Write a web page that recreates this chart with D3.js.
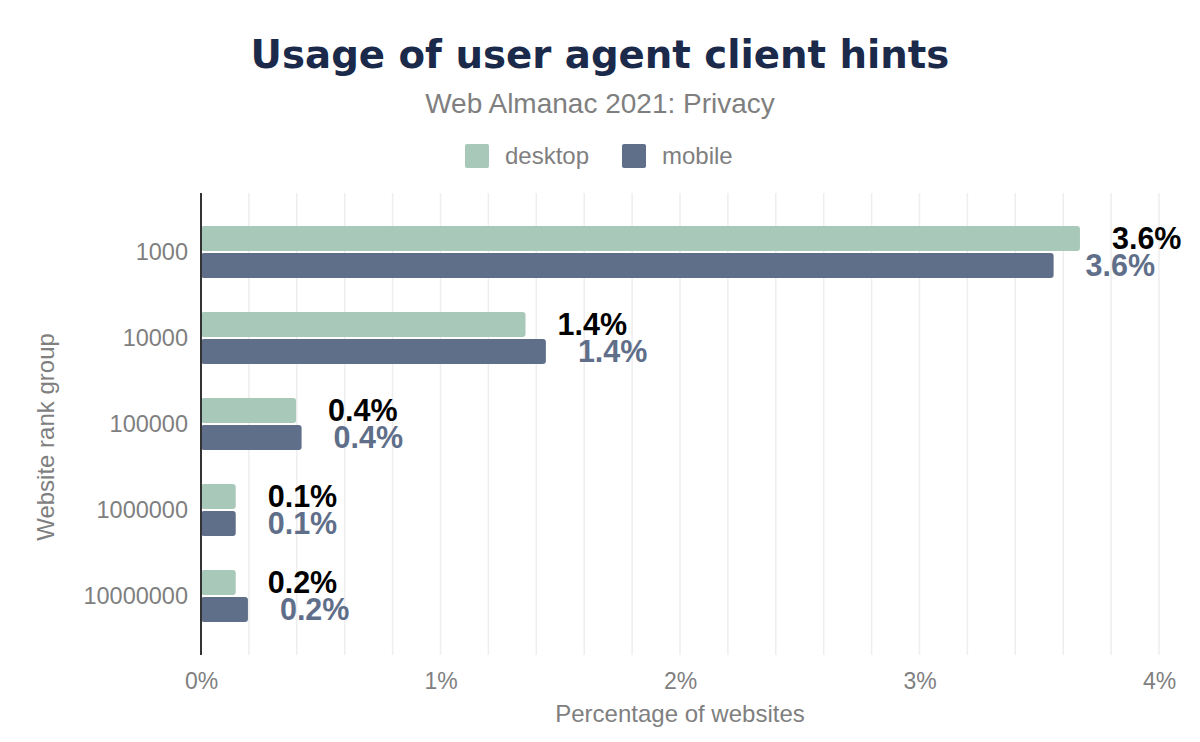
<!DOCTYPE html>
<html>
<head>
<meta charset="utf-8">
<script src="https://cdn.jsdelivr.net/npm/d3@7"></script>
<style>
  body { margin: 0; background: #fff; }
  svg { font-family: "Liberation Sans", Arial, Helvetica, sans-serif; }
</style>
</head>
<body>
<svg id="chart" width="1200" height="742"></svg>
<script>
// ---------- data ----------
const rankGroups = ["1000", "10000", "100000", "1000000", "10000000"];
const desktopPct = [3.67, 1.355, 0.397, 0.145, 0.145];
const mobilePct = [3.56, 1.44, 0.42, 0.145, 0.196];
const desktopLabels = ["3.6%", "1.4%", "0.4%", "0.1%", "0.2%"];
const mobileLabels = ["3.6%", "1.4%", "0.4%", "0.1%", "0.2%"];
const xTicks = [0, 1, 2, 3, 4];
const seriesNames = ["desktop", "mobile"];

const colors = { desktop: "#a8c9b9", mobile: "#5f6f8a" };
const grey = "#7f7f7f";

const svg = d3.select("#chart");
const W = 1200, H = 742;

// plot area
const plotLeft = 201, plotRight = 1159, plotTop = 193, plotBottom = 655;

const x = d3.scaleLinear().domain([0, 4]).range([plotLeft, plotRight]);
const y = d3.scaleBand().domain(rankGroups).range([209, 639]).paddingInner(0.395).paddingOuter(0.1975);
const sub = d3.scaleBand().domain(seriesNames).range([0, y.bandwidth()]).paddingInner(0.077);

// title + subtitle
svg.append("text")
  .attr("x", W / 2).attr("y", 68)
  .attr("text-anchor", "middle")
  .attr("font-family", "DejaVu Sans, sans-serif")
  .attr("font-size", 38.7).attr("font-weight", "bold")
  .attr("fill", "#1b2a4a")
  .text("Usage of user agent client hints");

svg.append("text")
  .attr("x", W / 2).attr("y", 113)
  .attr("text-anchor", "middle")
  .attr("font-size", 28)
  .attr("fill", grey)
  .text("Web Almanac 2021: Privacy");

// legend
const legend = svg.append("g");
const legendItems = [{ name: "desktop", x: 465 }, { name: "mobile", x: 622 }];
legendItems.forEach(d => {
  legend.append("rect")
    .attr("x", d.x).attr("y", 144)
    .attr("width", 24).attr("height", 24)
    .attr("rx", 2)
    .attr("fill", colors[d.name]);
  legend.append("text")
    .attr("x", d.x + 40).attr("y", 164)
    .attr("font-size", 24)
    .attr("fill", grey)
    .text(d.name);
});

// gridlines every 0.2%
const gridVals = d3.range(1, 21).map(i => i * 0.2);
svg.append("g").selectAll("line")
  .data(gridVals)
  .join("line")
  .attr("x1", d => x(d)).attr("x2", d => x(d))
  .attr("y1", plotTop).attr("y2", plotBottom)
  .attr("stroke", "#eeeeee")
  .attr("stroke-width", 1.5);

// x axis tick labels
const xAxis = d3.axisBottom(x).tickValues(xTicks).tickFormat(d => d + "%").tickSize(0);
svg.append("g")
  .attr("transform", `translate(0,${plotBottom})`)
  .call(xAxis)
  .call(g => g.select(".domain").remove())
  .call(g => g.selectAll("text")
    .attr("dy", 0).attr("y", 34)
    .attr("font-size", 23)
    .attr("font-family", "Liberation Sans, Arial, sans-serif")
    .attr("fill", grey));

svg.append("text")
  .attr("x", (plotLeft + plotRight) / 2).attr("y", 722)
  .attr("text-anchor", "middle")
  .attr("font-size", 24)
  .attr("fill", grey)
  .text("Percentage of websites");

// y axis labels
const yAxis = d3.axisLeft(y).tickSize(0).tickPadding(13);
svg.append("g")
  .attr("transform", `translate(${plotLeft},0)`)
  .call(yAxis)
  .call(g => g.select(".domain").remove())
  .call(g => g.selectAll("text")
    .attr("font-size", 23.5)
    .attr("font-family", "Liberation Sans, Arial, sans-serif")
    .attr("fill", grey));

svg.append("text")
  .attr("transform", `translate(54,${(plotTop + plotBottom) / 2 + 13}) rotate(-90)`)
  .attr("text-anchor", "middle")
  .attr("font-size", 24)
  .attr("fill", grey)
  .text("Website rank group");

// bars
const rows = rankGroups.map((g, i) => ({
  group: g,
  values: [
    { key: "desktop", v: desktopPct[i], label: desktopLabels[i] },
    { key: "mobile", v: mobilePct[i], label: mobileLabels[i] }
  ]
}));

const groups = svg.append("g").selectAll("g")
  .data(rows)
  .join("g")
  .attr("transform", d => `translate(0,${y(d.group)})`);

groups.selectAll("rect")
  .data(d => d.values)
  .join("rect")
  .attr("x", x(0))
  .attr("y", d => sub(d.key))
  .attr("width", d => x(d.v) - x(0))
  .attr("height", sub.bandwidth())
  .attr("rx", 3)
  .attr("fill", d => colors[d.key]);

groups.selectAll("text")
  .data(d => d.values)
  .join("text")
  .attr("x", d => x(d.v) + 32)
  .attr("y", d => sub(d.key) + sub.bandwidth() - 2)
  .attr("font-size", 30.5)
  .attr("font-weight", "bold")
  .attr("fill", d => d.key === "desktop" ? "#000" : colors.mobile)
  .text(d => d.label);

// y axis line
svg.append("line")
  .attr("x1", plotLeft).attr("x2", plotLeft)
  .attr("y1", plotTop).attr("y2", plotBottom)
  .attr("stroke", "#333")
  .attr("stroke-width", 2);
</script>
</body>
</html>
